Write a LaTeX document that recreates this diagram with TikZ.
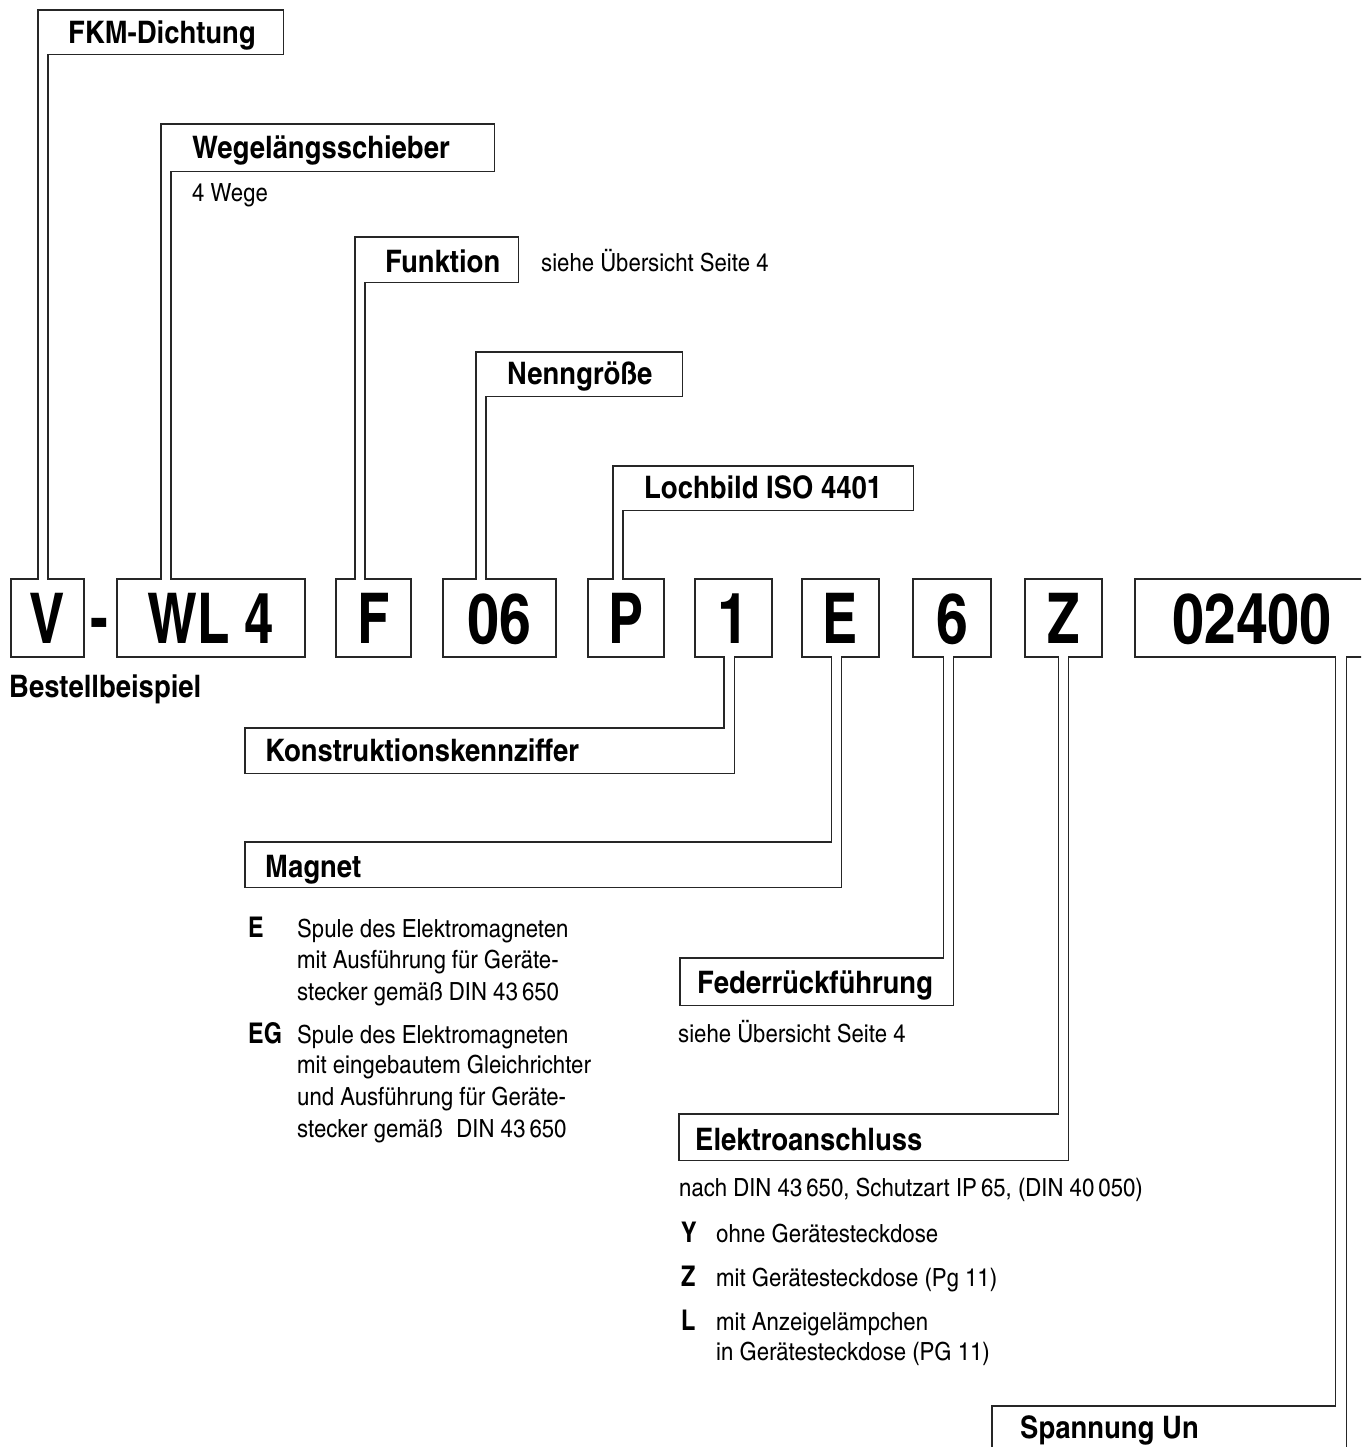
\documentclass[tikz,border=0pt]{standalone}
\usepackage{fontspec}
\setmainfont{texgyreheroscn}[Extension=.otf, UprightFont=*-regular, BoldFont=*-bold, ItalicFont=*-italic, BoldItalicFont=*-bolditalic]
\newfontfamily\cnreg{texgyreheroscn}[Extension=.otf, UprightFont=*-regular, BoldFont=*-bold, FakeStretch=1.08]
\newfontfamily\cnlab{texgyreheroscn}[Extension=.otf, UprightFont=*-bold, BoldFont=*-bold, FakeStretch=1.08]
\newfontfamily\cnbigD{texgyreheroscn}[Extension=.otf, UprightFont=*-bold, BoldFont=*-bold]
\newfontfamily\cnbigL{texgyreheroscn}[Extension=.otf, UprightFont=*-bold, BoldFont=*-bold, FakeStretch=0.92]
\newcommand\bigDfnt{\cnbigD\fontsize{70}{70}\selectfont}
\newcommand\bigLfnt{\cnbigL\fontsize{70}{70}\selectfont}
\newcommand\labfnt{\cnlab\fontsize{31}{31}\selectfont}
\newcommand\txtfnt{\cnreg\fontsize{25}{25}\selectfont}
\newcommand\keyfnt{\fontsize{28.5}{28.5}\selectfont\bfseries}
\begin{document}
\begin{tikzpicture}[x=1pt,y=-1pt,
  outl/.style={draw=black!85, line width=1.6pt, line join=miter},
  code/.style={inner sep=0pt, minimum height=78pt, text height=50pt, text depth=0pt, font=\bigLfnt},
  codeD/.style={code, font=\bigDfnt},
  lab/.style={anchor=north west, inner sep=0pt, font=\labfnt},
  txt/.style={anchor=base west, inner sep=0pt, font=\txtfnt},
  key/.style={anchor=base west, inner sep=0pt, font=\keyfnt}]
\useasboundingbox (0,0) rectangle (1361,1447);
\clip (0,0) rectangle (1361,1447);

% code boxes
\node[code, minimum width=73pt]  (cV) at (47.5,618) {V};
\node[code, minimum width=188pt] (cW) at (211,618) {WL 4};
\node[code, minimum width=75pt]  (cF) at (373.5,618) {F};
\node[codeD, minimum width=113pt] (cN) at (499.5,618) {06};
\node[code, minimum width=76pt]  (cP) at (626,618) {P};
\node[codeD, minimum width=77pt]  (c1) at (733.5,618) {1};
\node[code, minimum width=77pt]  (cE) at (840.5,618) {E};
\node[codeD, minimum width=78pt]  (c6) at (952,618) {6};
\node[code, minimum width=77pt]  (cZ) at (1063.5,618) {Z};
\node[codeD, minimum width=234pt] (cU) at (1252,618) {02400};
\node[code, anchor=base, text height=0pt] (dash) at (99.5,642) {-};

% top labels
\node[lab, text height=33pt, text depth=11pt] (fkm) at (38,10) {\makebox[245pt][l]{\hspace{30pt}FKM-Dichtung}};
\node[lab, text height=34pt, text depth=13pt] (weg) at (161,124) {\makebox[333pt][l]{\hspace{31pt}Wegelängsschieber}};
\node[lab, text height=35pt, text depth=10pt] (fun) at (355,237) {\makebox[163pt][l]{\hspace{30pt}Funktion}};
\node[lab, text height=32pt, text depth=12pt] (nen) at (476,352) {\makebox[206pt][l]{\hspace{31pt}Nenngröße}};
\node[lab, text height=32pt, text depth=12pt] (loc) at (613,466) {\makebox[300pt][l]{\hspace{31pt}Lochbild ISO 4401}};

% bottom labels
\node[lab, text height=33pt, text depth=12pt] (kon) at (245,728) {\makebox[489pt][l]{\hspace{20pt}Konstruktionskennziffer}};
\node[lab, text height=35pt, text depth=10pt] (mag) at (245,842) {\makebox[596pt][l]{\hspace{20pt}Magnet}};
\node[lab, text height=35pt, text depth=12pt] (fed) at (680,958) {\makebox[273pt][l]{\hspace{17pt}Federrückführung}};
\node[lab, text height=36pt, text depth=10pt] (ele) at (679,1114) {\makebox[389pt][l]{\hspace{16pt}Elektroanschluss}};
\node[lab, text height=32pt, text depth=40pt] (spa) at (992,1406) {\makebox[354pt][l]{\hspace{28pt}Spannung Un}};

% inner stem points
\coordinate (fkmi) at ([xshift=10pt]fkm.south west);
\coordinate (wegi) at ([xshift=10pt]weg.south west);
\coordinate (funi) at ([xshift=10pt]fun.south west);
\coordinate (neni) at ([xshift=10pt]nen.south west);
\coordinate (loci) at ([xshift=10pt]loc.south west);
\coordinate (koni) at ([xshift=-10.5pt]kon.north east);
\coordinate (magi) at ([xshift=-10pt]mag.north east);
\coordinate (fedi) at ([xshift=-10pt]fed.north east);
\coordinate (elei) at ([xshift=-10pt]ele.north east);
\coordinate (spai) at ([xshift=-11pt]spa.north east);

% top outlines
\foreach \l/\c in {fkm/cV, weg/cW, fun/cF, nen/cN, loc/cP}{
  \draw[outl] (\l.north west) -- (\l.north east) -- (\l.south east) -- (\l i)
    -- (\l i |- \c.north) -- (\c.north east) -- (\c.south east) -- (\c.south west)
    -- (\c.north west) -- (\l.south west |- \c.north) -- cycle;
}
% bottom outlines
\foreach \l/\c in {kon/c1, mag/cE, fed/c6, ele/cZ, spa/cU}{
  \draw[outl] (\c.south west) -- (\c.north west) -- (\c.north east) -- (\c.south east)
    -- (\l.north east |- \c.south) -- (\l.south east) -- (\l.south west) -- (\l.north west)
    -- (\l i) -- (\l i |- \c.south) -- cycle;
}

% free texts
\node[txt] (wege) at (192,202) {4 Wege};
\node[txt] (funs) at (541,272) {siehe Übersicht Seite 4};
\node[anchor=base west, inner sep=0pt, font=\labfnt] (best) at (9,697) {Bestellbeispiel};

\node[key] (kE) at (248,937) {E};
\node[txt] (e1) at (297,937) {Spule des Elektromagneten};
\node[txt] (e2) at (297,968) {mit Ausführung für Geräte-};
\node[txt] (e3) at (297,1000) {stecker gemäß DIN 43\,650};
\node[key] (kEG) at (248,1043) {EG};
\node[txt] (g1) at (297,1043) {Spule des Elektromagneten};
\node[txt] (g2) at (297,1073) {mit eingebautem Gleichrichter};
\node[txt] (g3) at (297,1105) {und Ausführung für Geräte-};
\node[txt] (g4) at (297,1137) {stecker gemäß\hspace{0.3em} DIN 43\,650};

\node[txt] (feds) at (678,1042) {siehe Übersicht Seite 4};
\node[txt] (eles) at (679,1196) {nach DIN 43\,650, Schutzart IP\,65, (DIN 40\,050)};
\node[key] (kY) at (681,1242) {Y};
\node[txt] (y1) at (716,1242) {ohne Gerätesteckdose};
\node[key] (kZ) at (681,1286) {Z};
\node[txt] (z1) at (716,1286) {mit Gerätesteckdose (Pg 11)};
\node[key] (kL) at (681,1330) {L};
\node[txt] (l1) at (716,1330) {mit Anzeigelämpchen};
\node[txt] (l2) at (716,1360) {in Gerätesteckdose (PG 11)};
\end{tikzpicture}
\end{document}
